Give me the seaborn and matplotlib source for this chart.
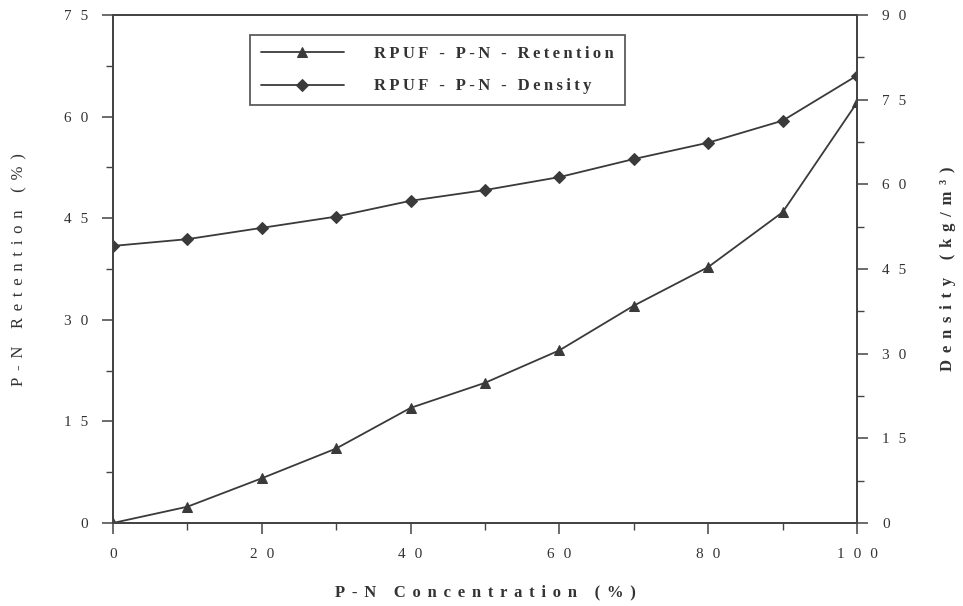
import pandas as pd
import matplotlib
matplotlib.use("Agg")
import matplotlib.pyplot as plt
import seaborn as sns
from matplotlib.ticker import MultipleLocator, FuncFormatter

# Données
concentration = [0, 10, 20, 30, 40, 50, 60, 70, 80, 90, 100]
retention = [0.0, 2.4, 6.6, 11.0, 17.0, 20.7, 25.5, 32.1, 37.8, 45.9, 62.1]
density = [49.1, 50.3, 52.3, 54.3, 57.1, 59.0, 61.3, 64.5, 67.4, 71.3, 79.3]

x_ticks = [0, 20, 40, 60, 80, 100]
left_ticks = [0, 15, 30, 45, 60, 75]
right_ticks = [0, 15, 30, 45, 60, 75, 90]

df = pd.DataFrame({"conc": concentration, "ret": retention, "dens": density})


def spaced(s, gap="\u2009"):
    # texte espacé comme sur l'original
    return gap.join(s)


sns.set_style("white")
plt.rcParams["font.family"] = ["Liberation Serif", "DejaVu Serif"]

fig = plt.figure(figsize=(9.63, 6.06), dpi=100)
ax = fig.add_axes([0.1173, 0.137, 0.7727, 0.838])
ax2 = ax.twinx()

col = "#3a3a3a"
sns.lineplot(data=df, x="conc", y="ret", ax=ax, color=col, marker="^",
             markersize=7, markeredgecolor=col, linewidth=1.3,
             label=spaced("RPUF - P-N - Retention"), legend=False)
sns.lineplot(data=df, x="conc", y="dens", ax=ax2, color=col, marker="D",
             markersize=6.5, markeredgecolor=col, linewidth=1.3,
             label=spaced("RPUF - P-N - Density"), legend=False)

ax.set_xlim(0, 100)
ax.set_ylim(0, 75)
ax2.set_ylim(0, 90)
ax.set_xticks(x_ticks)
ax.set_yticks(left_ticks)
ax2.set_yticks(right_ticks)
ax.xaxis.set_minor_locator(MultipleLocator(10))
ax.yaxis.set_minor_locator(MultipleLocator(7.5))
ax2.yaxis.set_minor_locator(MultipleLocator(7.5))

fmt = FuncFormatter(lambda v, p: spaced(f"{v:g}", "\u2009\u2009\u2009"))
ax.xaxis.set_major_formatter(fmt)
ax.yaxis.set_major_formatter(fmt)
ax2.yaxis.set_major_formatter(fmt)

for a in (ax, ax2):
    for s in a.spines.values():
        s.set_color("#444444")
        s.set_linewidth(1.3)
    a.tick_params(which="major", direction="out", length=8, width=1.1,
                  color="#444444", labelsize=11, labelcolor="#333333", pad=10)
    a.tick_params(which="minor", direction="out", length=5, width=1.0,
                  color="#444444")
ax.tick_params(axis="y", left=True, which="both")
ax.tick_params(axis="x", bottom=True, which="both")
ax2.tick_params(axis="y", right=True, which="both")

ax.set_xlabel(spaced("P-N Concentration (%)", "\u2009\u2009"), fontsize=12,
              fontweight="bold", color="#333333")
ax.xaxis.set_label_coords(0.5, -0.12)
ax.set_ylabel(spaced("P-N Retention (%)", "\u2009\u2009"), fontsize=12,
              color="#333333")
ax.yaxis.set_label_coords(-0.1156, 0.5)
ax2.set_ylabel(spaced("Density (kg/m³)", "\u2009\u2009"), fontsize=12,
               fontweight="bold", color="#333333")
ax2.yaxis.set_label_coords(1.1116, 0.5)

h1, l1 = ax.get_legend_handles_labels()
h2, l2 = ax2.get_legend_handles_labels()
leg = ax.legend(h1 + h2, l1 + l2, loc="upper left",
                bbox_to_anchor=(0.184, 0.961), borderaxespad=0,
                frameon=True, fancybox=False,
                edgecolor="#333333", fontsize=12, handlelength=5,
                borderpad=0.65, labelspacing=1.0, handletextpad=1.8)
leg.get_frame().set_linewidth(1.3)
for t in leg.get_texts():
    t.set_fontweight("bold")
    t.set_color("#333333")

fig.savefig("out.png", dpi=100)
